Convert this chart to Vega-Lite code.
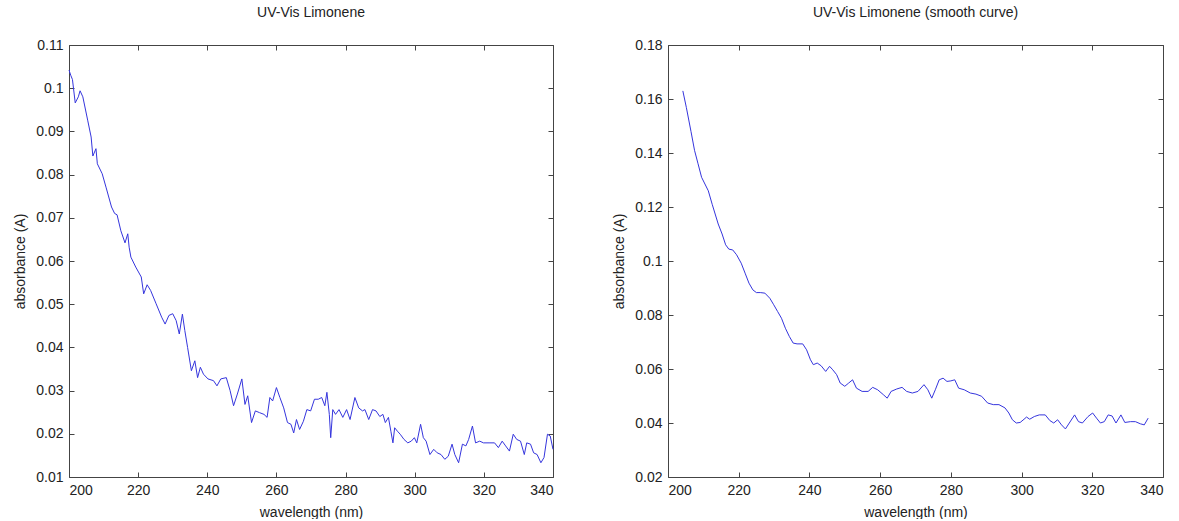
{
  "$schema": "https://vega.github.io/schema/vega-lite/v6.json",
  "background": "white",
  "padding": {"left": 13, "top": 6, "right": 5, "bottom": 0},
  "spacing": 57,
  "config": {
    "view": {"stroke": null},
    "font": "Liberation Sans",
    "axis": {
      "grid": false,
      "domainColor": "#444",
      "domainWidth": 1,
      "tickColor": "#444",
      "tickSize": -5,
      "labelFontSize": 14,
      "labelColor": "#222",
      "labelPadding": 11,
      "titleFontSize": 14,
      "titleFontWeight": "normal",
      "titleColor": "#222",
      "titlePadding": 8
    },
    "title": {"fontSize": 14, "fontWeight": "normal", "color": "#222", "offset": 18}
  },
  "datasets": {
    "raw": [
      {"wl": 200, "a": 0.1042}, {"wl": 200.5, "a": 0.103}, {"wl": 201, "a": 0.102}, {"wl": 201.8, "a": 0.0966},
      {"wl": 202.7, "a": 0.098}, {"wl": 203.2, "a": 0.0994}, {"wl": 204, "a": 0.098}, {"wl": 205.4, "a": 0.0926},
      {"wl": 206.4, "a": 0.0887}, {"wl": 206.9, "a": 0.0843}, {"wl": 207.8, "a": 0.086}, {"wl": 208.2, "a": 0.0825},
      {"wl": 209.6, "a": 0.0802}, {"wl": 210.7, "a": 0.0771}, {"wl": 212.3, "a": 0.0725}, {"wl": 213.2, "a": 0.071},
      {"wl": 213.9, "a": 0.0707}, {"wl": 215, "a": 0.067}, {"wl": 216.2, "a": 0.0642}, {"wl": 217, "a": 0.0663},
      {"wl": 217.4, "a": 0.0632}, {"wl": 217.9, "a": 0.0609}, {"wl": 219.3, "a": 0.0586}, {"wl": 220.9, "a": 0.0563},
      {"wl": 221.6, "a": 0.0524}, {"wl": 222.6, "a": 0.0545}, {"wl": 223.6, "a": 0.0532}, {"wl": 225.2, "a": 0.0501},
      {"wl": 226.8, "a": 0.047}, {"wl": 227.8, "a": 0.0454}, {"wl": 228.9, "a": 0.0474}, {"wl": 230, "a": 0.0478},
      {"wl": 231, "a": 0.0462}, {"wl": 231.9, "a": 0.0431}, {"wl": 232.8, "a": 0.0477}, {"wl": 233.5, "a": 0.0439},
      {"wl": 234.3, "a": 0.04}, {"wl": 235.4, "a": 0.0346}, {"wl": 236.4, "a": 0.0369}, {"wl": 237.2, "a": 0.033},
      {"wl": 238, "a": 0.0354}, {"wl": 238.9, "a": 0.0338}, {"wl": 240.2, "a": 0.0327}, {"wl": 241.8, "a": 0.0323},
      {"wl": 242.8, "a": 0.0311}, {"wl": 243.9, "a": 0.0327}, {"wl": 245.5, "a": 0.033}, {"wl": 246.6, "a": 0.03},
      {"wl": 247.6, "a": 0.0265}, {"wl": 248.7, "a": 0.0292}, {"wl": 250, "a": 0.0327}, {"wl": 250.9, "a": 0.0268},
      {"wl": 251.7, "a": 0.0288}, {"wl": 252.8, "a": 0.0226}, {"wl": 253.9, "a": 0.0253}, {"wl": 255.1, "a": 0.0249},
      {"wl": 256.4, "a": 0.0245}, {"wl": 257.3, "a": 0.0238}, {"wl": 258.1, "a": 0.0284}, {"wl": 258.9, "a": 0.0276},
      {"wl": 260, "a": 0.0307}, {"wl": 261, "a": 0.0284}, {"wl": 262.1, "a": 0.026}, {"wl": 263.2, "a": 0.0226},
      {"wl": 264.2, "a": 0.0222}, {"wl": 265, "a": 0.0202}, {"wl": 265.8, "a": 0.0233}, {"wl": 266.7, "a": 0.021},
      {"wl": 267.8, "a": 0.0229}, {"wl": 268.8, "a": 0.0256}, {"wl": 269.9, "a": 0.0253}, {"wl": 271, "a": 0.028},
      {"wl": 272.1, "a": 0.028}, {"wl": 273.1, "a": 0.0284}, {"wl": 274, "a": 0.0265}, {"wl": 274.6, "a": 0.0296},
      {"wl": 275.3, "a": 0.0245}, {"wl": 275.7, "a": 0.0191}, {"wl": 276.3, "a": 0.0256}, {"wl": 277.1, "a": 0.0245},
      {"wl": 278.1, "a": 0.0256}, {"wl": 279.2, "a": 0.0238}, {"wl": 280.3, "a": 0.0256}, {"wl": 281.3, "a": 0.0233},
      {"wl": 282.7, "a": 0.0284}, {"wl": 283.8, "a": 0.026}, {"wl": 284.9, "a": 0.0253}, {"wl": 285.6, "a": 0.0256},
      {"wl": 286.7, "a": 0.0233}, {"wl": 287.8, "a": 0.0256}, {"wl": 288.8, "a": 0.0253}, {"wl": 289.9, "a": 0.024},
      {"wl": 290.8, "a": 0.0245}, {"wl": 291.5, "a": 0.0226}, {"wl": 292.4, "a": 0.0238}, {"wl": 293.1, "a": 0.0206},
      {"wl": 293.7, "a": 0.0179}, {"wl": 294.2, "a": 0.0214}, {"wl": 295, "a": 0.0206}, {"wl": 295.8, "a": 0.0199},
      {"wl": 296.9, "a": 0.0187}, {"wl": 298, "a": 0.0179}, {"wl": 299, "a": 0.0183}, {"wl": 299.9, "a": 0.0191},
      {"wl": 300.6, "a": 0.0179}, {"wl": 301.7, "a": 0.0222}, {"wl": 302.5, "a": 0.0191}, {"wl": 303.3, "a": 0.0183},
      {"wl": 304.4, "a": 0.0152}, {"wl": 305.5, "a": 0.0164}, {"wl": 306.5, "a": 0.0156}, {"wl": 307.6, "a": 0.0152},
      {"wl": 308.7, "a": 0.0141}, {"wl": 309.7, "a": 0.0148}, {"wl": 310.8, "a": 0.0176}, {"wl": 311.6, "a": 0.0152},
      {"wl": 312.7, "a": 0.0133}, {"wl": 313.8, "a": 0.0176}, {"wl": 314.8, "a": 0.0172}, {"wl": 315.6, "a": 0.0187},
      {"wl": 316.7, "a": 0.0218}, {"wl": 317.6, "a": 0.0179}, {"wl": 318.8, "a": 0.0183}, {"wl": 319.9, "a": 0.0179},
      {"wl": 321.5, "a": 0.0179}, {"wl": 323.1, "a": 0.0179}, {"wl": 324.2, "a": 0.0168}, {"wl": 325.3, "a": 0.0183},
      {"wl": 326.3, "a": 0.0172}, {"wl": 327.4, "a": 0.016}, {"wl": 328.5, "a": 0.0199}, {"wl": 329.5, "a": 0.0187},
      {"wl": 330.6, "a": 0.0183}, {"wl": 331.7, "a": 0.0152}, {"wl": 332.4, "a": 0.0179}, {"wl": 333.5, "a": 0.0176},
      {"wl": 334.4, "a": 0.0156}, {"wl": 335.4, "a": 0.0152}, {"wl": 336.5, "a": 0.0133}, {"wl": 337.4, "a": 0.0145},
      {"wl": 338.4, "a": 0.0199}, {"wl": 339.2, "a": 0.0195}, {"wl": 340, "a": 0.0164}
    ],
    "smooth": [
      {"wl": 204.2, "a": 0.163}, {"wl": 205.2, "a": 0.1568}, {"wl": 206.5, "a": 0.148}, {"wl": 207.5, "a": 0.141},
      {"wl": 208.5, "a": 0.136}, {"wl": 209.5, "a": 0.131}, {"wl": 211.4, "a": 0.126}, {"wl": 212.5, "a": 0.121},
      {"wl": 214.2, "a": 0.1137}, {"wl": 215.3, "a": 0.11}, {"wl": 216.3, "a": 0.106}, {"wl": 217.2, "a": 0.1044},
      {"wl": 218.3, "a": 0.1041}, {"wl": 219.4, "a": 0.1023}, {"wl": 220.7, "a": 0.0992}, {"wl": 221.8, "a": 0.0955},
      {"wl": 222.9, "a": 0.0918}, {"wl": 224, "a": 0.0893}, {"wl": 225, "a": 0.0883}, {"wl": 226.1, "a": 0.0883},
      {"wl": 227.4, "a": 0.0881}, {"wl": 228.8, "a": 0.0862}, {"wl": 229.9, "a": 0.0838}, {"wl": 231, "a": 0.0813},
      {"wl": 232.1, "a": 0.0788}, {"wl": 233.2, "a": 0.0751}, {"wl": 234.3, "a": 0.0721}, {"wl": 235.4, "a": 0.0696},
      {"wl": 236.5, "a": 0.0693}, {"wl": 238.1, "a": 0.0693}, {"wl": 239.2, "a": 0.0671}, {"wl": 240.3, "a": 0.0634},
      {"wl": 241.1, "a": 0.0616}, {"wl": 242.2, "a": 0.0622}, {"wl": 243.3, "a": 0.0612}, {"wl": 244.6, "a": 0.0591},
      {"wl": 245.7, "a": 0.061}, {"wl": 246.6, "a": 0.0597}, {"wl": 247.7, "a": 0.0579}, {"wl": 248.7, "a": 0.0548},
      {"wl": 250, "a": 0.0536}, {"wl": 251.1, "a": 0.0548}, {"wl": 252.2, "a": 0.056}, {"wl": 253.3, "a": 0.0529},
      {"wl": 254.9, "a": 0.0517}, {"wl": 256.6, "a": 0.0517}, {"wl": 257.9, "a": 0.0532}, {"wl": 259.3, "a": 0.0523},
      {"wl": 260.9, "a": 0.0505}, {"wl": 262, "a": 0.0492}, {"wl": 263.1, "a": 0.0517}, {"wl": 264.7, "a": 0.0526},
      {"wl": 266.2, "a": 0.0532}, {"wl": 267.5, "a": 0.0517}, {"wl": 269.1, "a": 0.0511}, {"wl": 270.7, "a": 0.0517},
      {"wl": 272.4, "a": 0.0542}, {"wl": 273.5, "a": 0.0523}, {"wl": 274.6, "a": 0.0492}, {"wl": 275.6, "a": 0.0523},
      {"wl": 276.7, "a": 0.056}, {"wl": 277.8, "a": 0.0566}, {"wl": 278.9, "a": 0.0554}, {"wl": 280, "a": 0.0556},
      {"wl": 281.1, "a": 0.056}, {"wl": 282.2, "a": 0.0529}, {"wl": 283.8, "a": 0.0523}, {"wl": 285.5, "a": 0.0511},
      {"wl": 287.1, "a": 0.0507}, {"wl": 288.7, "a": 0.0499}, {"wl": 290.4, "a": 0.0474}, {"wl": 292, "a": 0.0468},
      {"wl": 293.6, "a": 0.0468}, {"wl": 295.3, "a": 0.0456}, {"wl": 296.4, "a": 0.0437}, {"wl": 297.4, "a": 0.0412},
      {"wl": 298.5, "a": 0.04}, {"wl": 299.6, "a": 0.0402}, {"wl": 300.7, "a": 0.0414}, {"wl": 301.4, "a": 0.0422},
      {"wl": 302.3, "a": 0.0414}, {"wl": 303.6, "a": 0.0424}, {"wl": 305, "a": 0.043}, {"wl": 306.7, "a": 0.043},
      {"wl": 308, "a": 0.0409}, {"wl": 309.1, "a": 0.04}, {"wl": 310.2, "a": 0.0412}, {"wl": 311.3, "a": 0.0393},
      {"wl": 312.4, "a": 0.0378}, {"wl": 313.5, "a": 0.04}, {"wl": 315, "a": 0.043}, {"wl": 316.1, "a": 0.0405},
      {"wl": 317.2, "a": 0.04}, {"wl": 318.8, "a": 0.0424}, {"wl": 320.1, "a": 0.0437}, {"wl": 321.2, "a": 0.0418},
      {"wl": 322.3, "a": 0.04}, {"wl": 323.4, "a": 0.0405}, {"wl": 324.5, "a": 0.043}, {"wl": 325.6, "a": 0.0426},
      {"wl": 326.7, "a": 0.04}, {"wl": 328.1, "a": 0.043}, {"wl": 329.2, "a": 0.0402}, {"wl": 330.8, "a": 0.0405},
      {"wl": 332.2, "a": 0.0405}, {"wl": 333.6, "a": 0.0397}, {"wl": 334.7, "a": 0.0393}, {"wl": 335.8, "a": 0.0418}
    ]
  },
  "hconcat": [
    {
      "width": 484,
      "height": 432,
      "title": "UV-Vis Limonene",
      "data": {"name": "raw"},
      "layer": [
        {
          "mark": {"type": "line", "color": "#3535dd", "strokeWidth": 1, "interpolate": "linear"},
          "encoding": {
            "x": {"field": "wl", "type": "quantitative",
                  "scale": {"domain": [200, 340], "nice": false, "zero": false},
                  "axis": {"orient": "bottom", "title": "wavelength (nm)", "format": "d", "values": [200, 220, 240, 260, 280, 300, 320, 340]}},
            "y": {"field": "a", "type": "quantitative",
                  "scale": {"domain": [0.01, 0.11], "nice": false, "zero": false},
                  "axis": {"orient": "left", "title": "absorbance (A)", "format": "~g", "values": [0.01, 0.02, 0.03, 0.04, 0.05, 0.06, 0.07, 0.08, 0.09, 0.1, 0.11]}}
          }
        },
        {
          "mark": {"type": "line", "opacity": 0},
          "encoding": {
            "x": {"field": "wl", "type": "quantitative",
                  "axis": {"orient": "top", "title": null, "labels": false, "values": [200, 220, 240, 260, 280, 300, 320, 340]}},
            "y": {"field": "a", "type": "quantitative",
                  "axis": {"orient": "right", "title": null, "labels": false, "values": [0.01, 0.02, 0.03, 0.04, 0.05, 0.06, 0.07, 0.08, 0.09, 0.1, 0.11]}}
          }
        }
      ],
      "resolve": {"axis": {"x": "independent", "y": "independent"}}
    },
    {
      "width": 495,
      "height": 432,
      "title": "UV-Vis Limonene (smooth curve)",
      "data": {"name": "smooth"},
      "layer": [
        {
          "mark": {"type": "line", "color": "#3535dd", "strokeWidth": 1, "interpolate": "linear"},
          "encoding": {
            "x": {"field": "wl", "type": "quantitative",
                  "scale": {"domain": [200, 340], "nice": false, "zero": false},
                  "axis": {"orient": "bottom", "title": "wavelength (nm)", "format": "d", "values": [200, 220, 240, 260, 280, 300, 320, 340]}},
            "y": {"field": "a", "type": "quantitative",
                  "scale": {"domain": [0.02, 0.18], "nice": false, "zero": false},
                  "axis": {"orient": "left", "title": "absorbance (A)", "format": "~g", "values": [0.02, 0.04, 0.06, 0.08, 0.1, 0.12, 0.14, 0.16, 0.18]}}
          }
        },
        {
          "mark": {"type": "line", "opacity": 0},
          "encoding": {
            "x": {"field": "wl", "type": "quantitative",
                  "axis": {"orient": "top", "title": null, "labels": false, "values": [200, 220, 240, 260, 280, 300, 320, 340]}},
            "y": {"field": "a", "type": "quantitative",
                  "axis": {"orient": "right", "title": null, "labels": false, "values": [0.02, 0.04, 0.06, 0.08, 0.1, 0.12, 0.14, 0.16, 0.18]}}
          }
        }
      ],
      "resolve": {"axis": {"x": "independent", "y": "independent"}}
    }
  ]
}
